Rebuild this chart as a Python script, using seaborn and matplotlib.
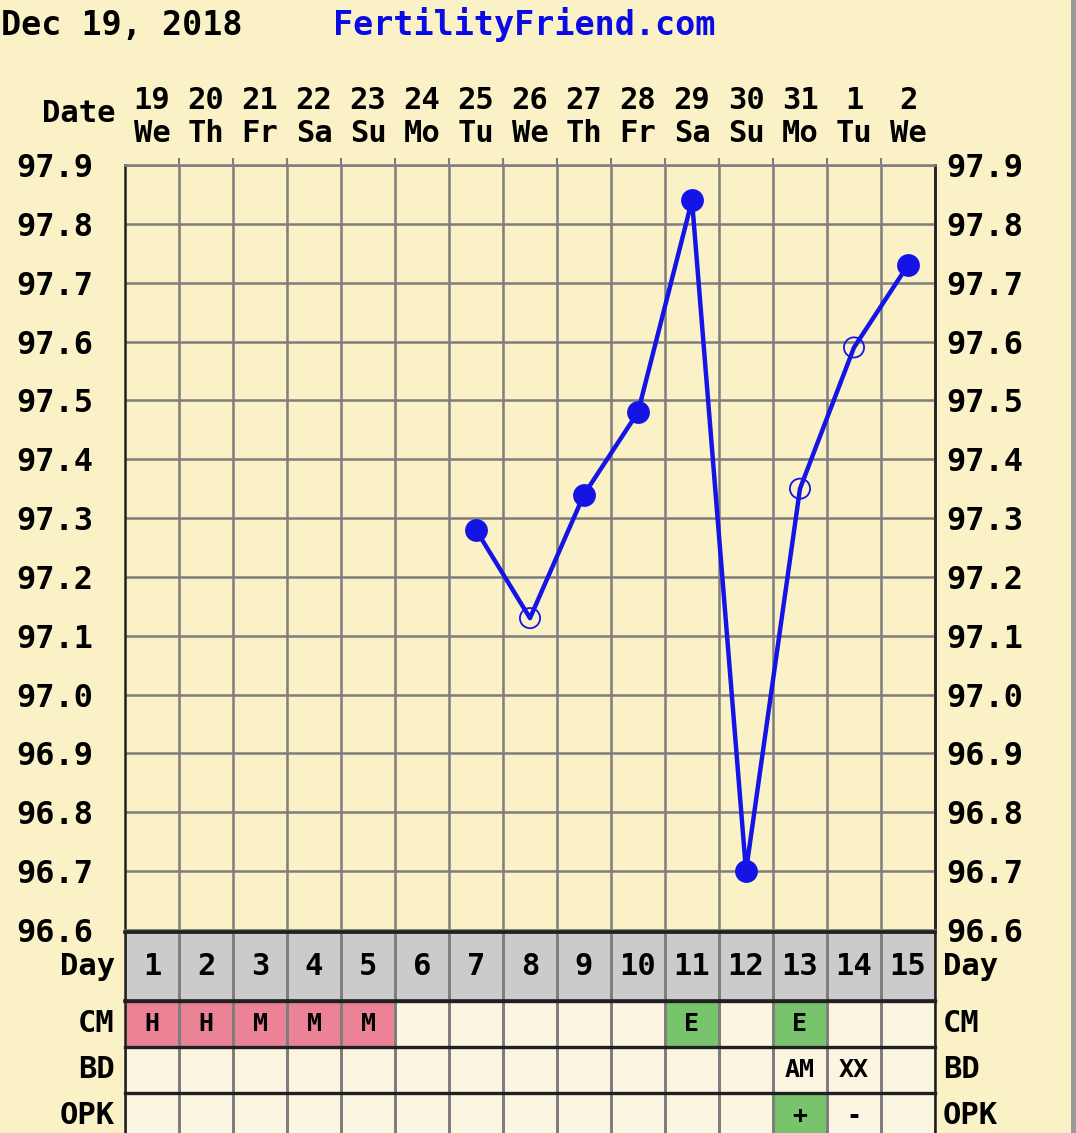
import numpy as np
import pandas as pd
import matplotlib
matplotlib.use("Agg")
import matplotlib.pyplot as plt
import matplotlib.transforms as mtransforms
from matplotlib.colors import ListedColormap
from matplotlib.patches import Rectangle
import seaborn as sns

# ---------------- data ----------------
dates = [19, 20, 21, 22, 23, 24, 25, 26, 27, 28, 29, 30, 31, 1, 2]
weekdays = ["We", "Th", "Fr", "Sa", "Su", "Mo", "Tu", "We", "Th", "Fr", "Sa", "Su", "Mo", "Tu", "We"]
cycle_days = [1, 2, 3, 4, 5, 6, 7, 8, 9, 10, 11, 12, 13, 14, 15]
temps = [np.nan, np.nan, np.nan, np.nan, np.nan, np.nan,
         97.28, 97.13, 97.34, 97.48, 97.84, 96.70, 97.35, 97.59, 97.73]
open_marker = [False, False, False, False, False, False,
               False, True, False, False, False, False, True, True, False]
temp_ticks = [96.6, 96.7, 96.8, 96.9, 97.0, 97.1, 97.2, 97.3, 97.4, 97.5, 97.6, 97.7, 97.8, 97.9]
row_names = ["CM", "BD", "OPK"]
cm_text = ["H", "H", "M", "M", "M", "", "", "", "", "", "E", "", "E", "", ""]
bd_text = ["", "", "", "", "", "", "", "", "", "", "", "", "AM", "XX", ""]
opk_text = ["", "", "", "", "", "", "", "", "", "", "", "", "+", "-", ""]
# fill code: 0 none, 1 pink, 2 green
cm_fill = [1, 1, 1, 1, 1, 0, 0, 0, 0, 0, 2, 0, 2, 0, 0]
bd_fill = [0, 0, 0, 0, 0, 0, 0, 0, 0, 0, 0, 0, 0, 0, 0]
opk_fill = [0, 0, 0, 0, 0, 0, 0, 0, 0, 0, 0, 0, 2, 0, 0]
title_left = "Dec 19, 2018"
title_site = "FertilityFriend.com"

# ---------------- style ----------------
YELLOW = "#FAF2C6"
CREAM = "#FBF5E2"
PINK = "#EC8296"
GREEN = "#78C46C"
GRAYROW = "#CBCBCB"
GRID = "#7E7E7E"
DARK = "#202020"
BLUE = "#1414E6"
FS = 22

plt.rcParams["font.family"] = ["DejaVu Sans Mono", "DejaVu Sans"]
plt.rcParams["font.weight"] = "bold"

W, H = 1076, 1133
fig = plt.figure(figsize=(W / 100, H / 100), dpi=100)
fig.patch.set_facecolor(YELLOW)


def px(l, t, r, b):
    return [l / W, 1 - b / H, (r - l) / W, (b - t) / H]


# right-edge shadow of the card
fig.patches.append(Rectangle((1071 / W, 0), 5 / W, 1, transform=fig.transFigure,
                             facecolor="#9A9A9A", edgecolor="none", zorder=0))

# ---------------- main temperature chart ----------------
ax = fig.add_axes(px(125, 165, 935, 930))
ax.set_facecolor(YELLOW)
df = pd.DataFrame({"day": cycle_days, "temp": temps, "open": open_marker})
valid = df.dropna()
sns.lineplot(data=valid, x="day", y="temp", color=BLUE, lw=3.2, ax=ax, zorder=3)
sns.scatterplot(data=valid[~valid["open"]], x="day", y="temp", s=270, color=BLUE,
                linewidth=0, ax=ax, zorder=4)
sns.scatterplot(data=valid[valid["open"]], x="day", y="temp", s=210,
                ax=ax, zorder=4, linewidth=1.3)
ax.collections[-1].set_facecolor("none")
ax.collections[-1].set_edgecolor(BLUE)

ax.set_xlim(0.5, 15.5)
ax.set_ylim(96.6, 97.9)
ax.set_xlabel("")
ax.set_ylabel("")

ax.xaxis.set_ticks_position("top")
ax.set_xticks(cycle_days)
ax.set_xticklabels([f"{d}\n{w}" for d, w in zip(dates, weekdays)], linespacing=1.2)
ax.set_xticks(np.arange(1.5, 15.5, 1.0), minor=True)
ax.tick_params(axis="x", which="major", length=0, pad=12, labelsize=FS)
ax.tick_params(axis="x", which="minor", top=True, bottom=False, length=5, width=1.5, color=GRID)

ax.set_yticks(temp_ticks)
ax.set_yticklabels([f"{t:.1f}" for t in temp_ticks])
ax.tick_params(axis="y", which="both", length=0, pad=23, labelsize=23)

ax.grid(which="minor", axis="x", color=GRID, lw=1.8)
ax.grid(which="major", axis="y", color=GRID, lw=1.8)
ax.grid(which="major", axis="x", visible=False)
ax.set_axisbelow(True)
for s in ["left", "right"]:
    ax.spines[s].set_color(DARK)
    ax.spines[s].set_linewidth(1.8)
for s in ["top", "bottom"]:
    ax.spines[s].set_color(GRID)
    ax.spines[s].set_linewidth(1.8)

sec = ax.secondary_yaxis("right")
sec.set_yticks(temp_ticks)
sec.set_yticklabels([f"{t:.1f}" for t in temp_ticks])
sec.tick_params(length=0, pad=8, labelsize=23)
sec.spines["right"].set_color(DARK)
sec.spines["right"].set_linewidth(1.8)

ax.text(-10 / 810, (930 - 113) / 765, "Date", transform=ax.transAxes,
        ha="right", va="center", fontsize=FS)

fig.text(1 / W, 1 - 25 / H, title_left, ha="left", va="center", fontsize=24, color="black")
fig.text(524 / W, 1 - 25 / H, title_site, ha="center", va="center", fontsize=24, color="#0A0AE6")

# ---------------- Day row ----------------
axd = fig.add_axes(px(125, 932, 935, 1001))
sns.heatmap(np.zeros((1, 15)), cmap=ListedColormap([GRAYROW]), cbar=False,
            annot=np.array([cycle_days]), fmt="d", linewidths=1.8, linecolor=GRID,
            annot_kws=dict(fontsize=FS, fontweight="bold", color="black"), ax=axd)
axd.set_xticks([])
axd.set_yticks([])
for yv in [0, 1]:
    axd.axhline(yv, color=DARK, lw=2.6, clip_on=False)
axd.axvline(0, color=DARK, lw=1.8, clip_on=False)
axd.axvline(15, color=DARK, lw=1.8, clip_on=False)
trd = mtransforms.blended_transform_factory(axd.transAxes, axd.transData)
axd.text(-10 / 810, 0.5, "Day", transform=trd, ha="right", va="center", fontsize=FS)
axd.text(1 + 8 / 810, 0.5, "Day", transform=trd, ha="left", va="center", fontsize=FS)

# ---------------- CM / BD / OPK rows ----------------
axr = fig.add_axes(px(125, 1001, 935, 1139))
codes = np.array([cm_fill, bd_fill, opk_fill])
labels = np.array([cm_text, bd_text, opk_text])
sns.heatmap(codes, cmap=ListedColormap([CREAM, PINK, GREEN]), vmin=-0.5, vmax=2.5,
            cbar=False, annot=labels, fmt="", linewidths=1.8, linecolor=GRID,
            annot_kws=dict(fontsize=18, fontweight="bold", color="black"), ax=axr)
axr.set_xticks([])
axr.set_yticks([])
for yv in [0, 1, 2, 3]:
    axr.axhline(yv, color=DARK, lw=2.4, clip_on=False)
axr.axvline(0, color=DARK, lw=1.8, clip_on=False)
axr.axvline(15, color=DARK, lw=1.8, clip_on=False)
trr = mtransforms.blended_transform_factory(axr.transAxes, axr.transData)
for i, name in enumerate(row_names):
    axr.text(-10 / 810, i + 0.5, name, transform=trr, ha="right", va="center", fontsize=FS)
    axr.text(1 + 8 / 810, i + 0.5, name, transform=trr, ha="left", va="center", fontsize=FS)

fig.savefig("out.png", dpi=100, facecolor=fig.get_facecolor())
